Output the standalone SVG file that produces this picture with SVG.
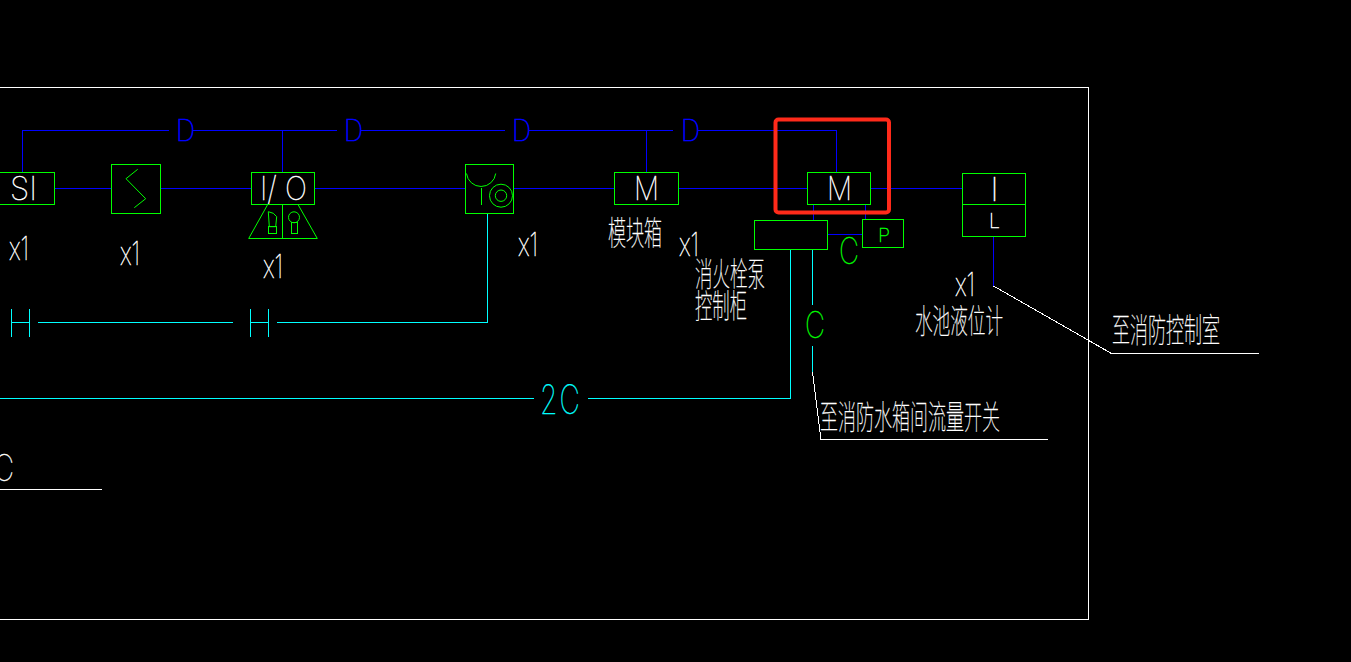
<svg xmlns="http://www.w3.org/2000/svg" width="1351" height="662" viewBox="0 0 1351 662">
<style>
rect,line,polyline,path,circle,polygon{fill:none;stroke-width:1}
.g{stroke:#00ff00}.b{stroke:#0000ff}.c{stroke:#00ffff}.w{stroke:#ffffff}
.crisp{shape-rendering:crispEdges}
text{font-family:"Inter","Liberation Sans",sans-serif;font-weight:100;opacity:.999;stroke-width:.45px;paint-order:stroke}
.t{fill:#ffffff;stroke:#ffffff;font-size:32px}
.l{fill:#ffffff;stroke:#ffffff}
.db{fill:#0000ff;stroke:#0000ff;stroke-width:.7px}
.gt{fill:#00ff00;stroke:#00ff00}
.ct{fill:#00ffff;stroke:#00ffff}
.z{font-family:"Noto Sans CJK SC",sans-serif;font-weight:100;fill:#ffffff;stroke:#ffffff;stroke-width:.3px;font-size:33px}
</style>
<rect width="1351" height="662" style="fill:#000000;stroke:none"/>
<rect class="w crisp" x="-5" y="87.5" width="1093" height="532"/>
<g id="connectors" class="crisp">
<g class="b">
<polyline points="22.5,172 22.5,130.5 169,130.5"/>
<line x1="193" y1="130.5" x2="337" y2="130.5"/>
<line x1="361" y1="130.5" x2="505" y2="130.5"/>
<line x1="529" y1="130.5" x2="673" y2="130.5"/>
<polyline points="698,130.5 836.5,130.5 836.5,172"/>
<line x1="282.5" y1="130" x2="282.5" y2="172"/>
<line x1="646.5" y1="130" x2="646.5" y2="172"/>
<line x1="55" y1="188.5" x2="111" y2="188.5"/>
<line x1="161" y1="188.5" x2="251" y2="188.5"/>
<line x1="315" y1="188.5" x2="465" y2="188.5"/>
<line x1="514" y1="188.5" x2="614" y2="188.5"/>
<line x1="679" y1="188.5" x2="807" y2="188.5"/>
<line x1="871" y1="188.5" x2="962" y2="188.5"/>
<line x1="813.5" y1="205" x2="813.5" y2="220"/>
<line x1="865.5" y1="205" x2="865.5" y2="219"/>
<line x1="828" y1="234.5" x2="862" y2="234.5"/>
<line x1="993.5" y1="237" x2="993.5" y2="286"/>
</g>
<g class="c">
<polyline points="487.5,214 487.5,322.5 277,322.5"/>
<line x1="38" y1="322.5" x2="233" y2="322.5"/>
<polyline points="11.5,309 11.5,337"/>
<line x1="29.5" y1="309" x2="29.5" y2="337"/>
<line x1="11.5" y1="322.5" x2="29.5" y2="322.5"/>
<line x1="250.5" y1="309" x2="250.5" y2="337"/>
<line x1="268.5" y1="309" x2="268.5" y2="337"/>
<line x1="250.5" y1="322.5" x2="268.5" y2="322.5"/>
<line x1="0" y1="398.5" x2="534" y2="398.5"/>
<polyline points="588,398.5 790.5,398.5 790.5,250"/>
<line x1="812.5" y1="250" x2="812.5" y2="305"/>
<line x1="812.5" y1="346" x2="812.5" y2="372"/>
</g>
<g class="w">
<polyline points="812.5,372 821,439.5 1048,439.5"/>
<polyline points="993.5,286 1111.5,353.5 1259,353.5"/>
<line x1="0" y1="489.5" x2="102" y2="489.5"/>
</g>
</g>
<g id="wire-labels">
<text x="176" y="141" font-size="29" textLength="19" lengthAdjust="spacingAndGlyphs" class="db">D</text>
<text x="344" y="141" font-size="29" textLength="19" lengthAdjust="spacingAndGlyphs" class="db">D</text>
<text x="512" y="141" font-size="29" textLength="19" lengthAdjust="spacingAndGlyphs" class="db">D</text>
<text x="681" y="141" font-size="29" textLength="19" lengthAdjust="spacingAndGlyphs" class="db">D</text>
<text x="839" y="264" font-size="37" textLength="20" lengthAdjust="spacingAndGlyphs" class="gt">C</text>
<text x="805" y="338" font-size="37" textLength="20" lengthAdjust="spacingAndGlyphs" class="gt">C</text>
<text x="540" y="414" font-size="40" textLength="42" lengthAdjust="spacingAndGlyphs" class="ct" letter-spacing="3">2C</text>
<text x="-6" y="481" font-size="37" textLength="20" lengthAdjust="spacingAndGlyphs" class="l">C</text>
</g>
<g id="node-si">
<rect class="g crisp" x="-5" y="172.5" width="59.5" height="32"/>
<text x="10" y="200" font-size="33" textLength="27" lengthAdjust="spacingAndGlyphs" class="l">SI</text>
<text x="9" y="260" class="t" textLength="20" lengthAdjust="spacingAndGlyphs">x1</text>
</g>
<g id="node-squiggle">
<rect class="g crisp" x="111.5" y="164.5" width="49" height="49"/>
<polyline class="g" points="137.7,169.3 126,178.7 145.7,198.7 134.3,207.7"/>
<text x="120" y="265" class="t" textLength="20" lengthAdjust="spacingAndGlyphs">x1</text>
</g>
<g id="node-io">
<rect class="g crisp" x="251.5" y="172.5" width="63" height="32"/>
<text x="260" y="200" font-size="33" textLength="47" lengthAdjust="spacingAndGlyphs" class="l">I/ O</text>
<polygon class="g" points="267.7,204.5 248.7,238.5 317.3,238.5 298,204.5"/>
<line class="g crisp" x1="282.5" y1="205" x2="282.5" y2="238"/>
<polygon class="g" points="268.3,211.7 273.3,213.3 276.7,216.7 275.7,226.7 269.3,226.7"/>
<rect class="g crisp" x="268.5" y="226.5" width="8" height="7"/>
<circle class="g" cx="294" cy="217.3" r="5.5"/>
<rect class="g crisp" x="291.5" y="222.5" width="6" height="11"/>
<text x="263" y="278" class="t" textLength="20" lengthAdjust="spacingAndGlyphs">x1</text>
</g>
<g id="node-bell">
<rect class="g crisp" x="465.5" y="164.5" width="48" height="49"/>
<path class="g" d="M466.5 173.5A14.7 14.7 0 0 0 495.7 173.5"/>
<line class="g crisp" x1="481.5" y1="188" x2="481.5" y2="205"/>
<circle class="g" cx="501" cy="195.7" r="11.5"/>
<circle class="g" cx="501" cy="195.7" r="5.7"/>
<text x="518" y="256" class="t" textLength="20" lengthAdjust="spacingAndGlyphs">x1</text>
</g>
<g id="node-module">
<rect class="g crisp" x="614.5" y="172.5" width="64" height="32"/>
<text x="634" y="200" font-size="33" textLength="25" lengthAdjust="spacingAndGlyphs" class="l">M</text>
<text x="608" y="244.5" class="z" textLength="54" lengthAdjust="spacingAndGlyphs">模块箱</text>
<text x="679" y="256" class="t" textLength="20" lengthAdjust="spacingAndGlyphs">x1</text>
</g>
<g id="node-module-2">
<rect class="g crisp" x="807.5" y="172.5" width="63" height="32"/>
<text x="827" y="200" font-size="33" textLength="25" lengthAdjust="spacingAndGlyphs" class="l">M</text>
</g>
<g id="node-control-cabinet">
<rect class="g crisp" x="754.5" y="220.5" width="73" height="29"/>
<text x="695" y="285.5" class="z" textLength="70" lengthAdjust="spacingAndGlyphs">消火栓泵</text>
<text x="695" y="317.5" class="z" textLength="52" lengthAdjust="spacingAndGlyphs">控制柜</text>
</g>
<g id="node-p">
<rect class="g crisp" x="862.5" y="219.5" width="41" height="28"/>
<text x="878" y="242" font-size="19" textLength="12" lengthAdjust="spacingAndGlyphs" class="gt">P</text>
</g>
<g id="node-level">
<rect class="g crisp" x="962.5" y="173.5" width="63" height="63"/>
<line class="g crisp" x1="962.5" y1="204.5" x2="1025.5" y2="204.5"/>
<text x="990" y="201" font-size="33" textLength="9" lengthAdjust="spacingAndGlyphs" class="l">I</text>
<text x="989" y="228" font-size="20" textLength="11" lengthAdjust="spacingAndGlyphs" class="l">L</text>
<text x="955" y="296" class="t" textLength="20" lengthAdjust="spacingAndGlyphs">x1</text>
<text x="915" y="333" class="z" textLength="88" lengthAdjust="spacingAndGlyphs">水池液位计</text>
</g>
<g id="notes">
<text x="1112" y="342" class="z" textLength="108" lengthAdjust="spacingAndGlyphs">至消防控制室</text>
<text x="820" y="429" class="z" textLength="180" lengthAdjust="spacingAndGlyphs">至消防水箱间流量开关</text>
</g>
<rect id="highlight" x="775.5" y="119.5" width="113.5" height="93" rx="3" style="fill:none;stroke:#ff2a1a;stroke-width:4"/>
</svg>
